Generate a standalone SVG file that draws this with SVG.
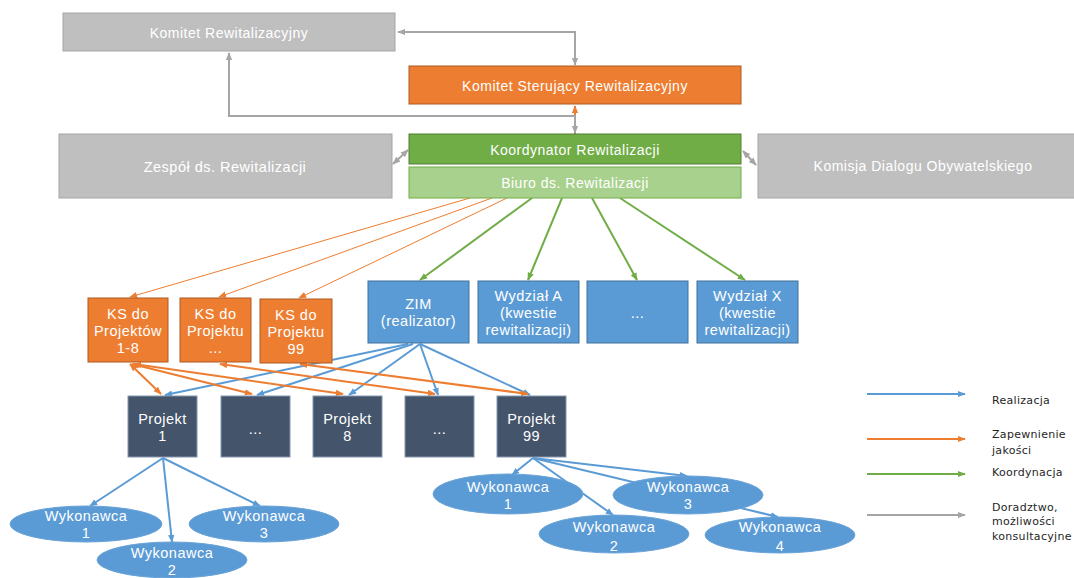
<svg xmlns="http://www.w3.org/2000/svg" width="1074" height="578" viewBox="0 0 1074 578">
<style>
.t{font-family:"Liberation Sans",Arial,sans-serif;fill:#ffffff;text-anchor:middle;letter-spacing:0.5px}
.t14{font-size:14px}
.t15{font-size:14.5px}
.gray{fill:#bfbfbf;stroke:#a5a5a5;stroke-width:1}
.orange{fill:#ed7d31;stroke:#ae5a21;stroke-width:1}
.dgreen{fill:#70ad47;stroke:#507e32;stroke-width:1}
.lgreen{fill:#a9d18e;stroke:#70ad47;stroke-width:1}
.blue{fill:#5b9bd5;stroke:#41719c;stroke-width:1}
.slate{fill:#44546a;stroke:#8497b0;stroke-width:1}
.ell{fill:#5b9bd5;stroke:#6aa3d8;stroke-width:1}
.cg{stroke:#a5a5a5;stroke-width:2;fill:none;marker-start:url(#ag);marker-end:url(#ag)}
.co{stroke:#ed7d31;stroke-width:2;fill:none}
.cot{stroke:#ed7d31;stroke-width:1;fill:none;marker-end:url(#ao)}
.cgr{stroke:#70ad47;stroke-width:2;fill:none;marker-end:url(#agr)}
.cb{stroke:#5b9bd5;stroke-width:2;fill:none;marker-end:url(#ab)}
.leg{font-family:"DejaVu Sans","Liberation Sans",sans-serif;font-size:11px;fill:#262626;letter-spacing:0.3px}
</style>
<defs>
<marker id="ag" viewBox="0 0 10 10" refX="9" refY="5" markerWidth="8" markerHeight="8" markerUnits="userSpaceOnUse" orient="auto-start-reverse"><path d="M0,1 L10,5 L0,9 z" fill="#a5a5a5"/></marker>
<marker id="ao" viewBox="0 0 10 10" refX="9" refY="5" markerWidth="8" markerHeight="8" markerUnits="userSpaceOnUse" orient="auto-start-reverse"><path d="M0,1 L10,5 L0,9 z" fill="#ed7d31"/></marker>
<marker id="agr" viewBox="0 0 10 10" refX="9" refY="5" markerWidth="8" markerHeight="8" markerUnits="userSpaceOnUse" orient="auto-start-reverse"><path d="M0,1 L10,5 L0,9 z" fill="#70ad47"/></marker>
<marker id="ab" viewBox="0 0 10 10" refX="9" refY="5" markerWidth="8" markerHeight="8" markerUnits="userSpaceOnUse" orient="auto-start-reverse"><path d="M0,1 L10,5 L0,9 z" fill="#5b9bd5"/></marker>
</defs>
<rect width="1074" height="578" fill="#ffffff"/>

<g id="connectors">
<line class="co" x1="575" y1="134" x2="575" y2="106" marker-end="url(#ao)"/>
<polyline class="cg" points="575,65 575,32 398,32"/>
<polyline class="cg" points="229,53 229,116 575,116 575,133"/>
<line class="cg" x1="393" y1="164" x2="408" y2="150"/>
<line class="cg" x1="743" y1="151" x2="756" y2="165"/>
<line class="cot" x1="470" y1="198" x2="130" y2="297"/>
<line class="cot" x1="492" y1="198" x2="219" y2="297"/>
<line class="cot" x1="507" y1="198" x2="299" y2="298"/>
<line class="cgr" x1="532" y1="198" x2="420" y2="280"/>
<line class="cgr" x1="562" y1="198" x2="528" y2="280"/>
<line class="cgr" x1="592" y1="198" x2="637" y2="280"/>
<line class="cgr" x1="620" y1="198" x2="745" y2="280"/>
<line class="cb" x1="408" y1="344" x2="165" y2="395"/>
<line class="cb" x1="413" y1="344" x2="257" y2="395"/>
<line class="cb" x1="420" y1="344" x2="349" y2="395"/>
<line class="cb" x1="420" y1="344" x2="438" y2="395"/>
<line class="cb" x1="420" y1="344" x2="530" y2="395"/>
<line class="co" x1="130" y1="364" x2="161" y2="394" marker-start="url(#ao)" marker-end="url(#ao)"/>
<line class="co" x1="132" y1="364" x2="252" y2="394" marker-start="url(#ao)" marker-end="url(#ao)"/>
<line class="co" x1="134" y1="364" x2="343" y2="394" marker-start="url(#ao)" marker-end="url(#ao)"/>
<line class="co" x1="220" y1="364" x2="435" y2="394" marker-start="url(#ao)" marker-end="url(#ao)"/>
<line class="co" x1="300" y1="364" x2="528" y2="394" marker-start="url(#ao)" marker-end="url(#ao)"/>
<line class="cb" x1="163" y1="458" x2="90" y2="506"/>
<line class="cb" x1="163" y1="458" x2="172" y2="542"/>
<line class="cb" x1="163" y1="458" x2="260" y2="506"/>
<line class="cb" x1="533" y1="458" x2="512" y2="475" stroke-width="1.5"/>
<line class="cb" x1="533" y1="458" x2="613" y2="515"/>
<line class="cb" x1="533" y1="458" x2="687" y2="476"/>
<line class="cb" x1="533" y1="458" x2="778" y2="517"/>
</g>

<g id="komitet-rewitalizacyjny"><rect class="gray" x="63" y="13" width="332" height="38"/><text class="t t14" x="229" y="38">Komitet Rewitalizacyjny</text></g>
<g id="komitet-sterujacy"><rect class="orange" x="409" y="66" width="332" height="38"/><text class="t t14" x="575" y="91">Komitet Sterujący Rewitalizacyjny</text></g>
<g id="zespol"><rect class="gray" x="59" y="134" width="333" height="64"/><text class="t t15" x="225" y="172">Zespół ds. Rewitalizacji</text></g>
<g id="koordynator"><rect class="dgreen" x="409" y="134" width="332" height="30"/><text class="t t14" x="575" y="155">Koordynator Rewitalizacji</text></g>
<g id="biuro"><rect class="lgreen" x="409" y="167" width="332" height="31"/><text class="t t14" x="575" y="188">Biuro ds. Rewitalizacji</text></g>
<g id="komisja"><rect class="gray" x="758" y="134" width="330" height="64"/><text class="t t14" x="923" y="171">Komisja Dialogu Obywatelskiego</text></g>

<g id="ks1"><rect class="orange" x="88" y="298" width="80" height="64"/><text class="t t15" x="128" y="319">KS do</text><text class="t t15" x="128" y="336">Projektów</text><text class="t t15" x="128" y="353">1-8</text></g>
<g id="ks2"><rect class="orange" x="180" y="298" width="71" height="64"/><text class="t t15" x="215.5" y="319">KS do</text><text class="t t15" x="215.5" y="336">Projektu</text><text class="t t15" x="215.5" y="353">...</text></g>
<g id="ks3"><rect class="orange" x="260" y="299" width="72" height="64"/><text class="t t15" x="296" y="320">KS do</text><text class="t t15" x="296" y="337">Projektu</text><text class="t t15" x="296" y="354">99</text></g>

<g id="zim"><rect class="blue" x="368" y="281" width="101" height="62"/><text class="t t15" x="418.5" y="309">ZIM</text><text class="t t15" x="418.5" y="326">(realizator)</text></g>
<g id="wydzial-a"><rect class="blue" x="478" y="281" width="101" height="62"/><text class="t t15" x="528.5" y="301">Wydział A</text><text class="t t15" x="528.5" y="318">(kwestie</text><text class="t t15" x="528.5" y="335">rewitalizacji)</text></g>
<g id="wydzial-dots"><rect class="blue" x="587" y="281" width="101" height="62"/><text class="t t15" x="637.5" y="318">...</text></g>
<g id="wydzial-x"><rect class="blue" x="697" y="281" width="101" height="62"/><text class="t t15" x="747.5" y="301">Wydział X</text><text class="t t15" x="747.5" y="318">(kwestie</text><text class="t t15" x="747.5" y="335">rewitalizacji)</text></g>

<g id="projekt-1"><rect class="slate" x="128" y="396" width="69" height="61"/><text class="t t15" x="162.5" y="424">Projekt</text><text class="t t15" x="162.5" y="441">1</text></g>
<g id="projekt-dots-1"><rect class="slate" x="221" y="396" width="69" height="61"/><text class="t t15" x="255.5" y="434">...</text></g>
<g id="projekt-8"><rect class="slate" x="313" y="396" width="69" height="61"/><text class="t t15" x="347.5" y="424">Projekt</text><text class="t t15" x="347.5" y="441">8</text></g>
<g id="projekt-dots-2"><rect class="slate" x="405" y="396" width="69" height="61"/><text class="t t15" x="439.5" y="434">...</text></g>
<g id="projekt-99"><rect class="slate" x="497" y="396" width="69" height="61"/><text class="t t15" x="531.5" y="424">Projekt</text><text class="t t15" x="531.5" y="441">99</text></g>

<g id="p1-wykonawca-1"><ellipse class="ell" cx="86" cy="524" rx="76" ry="18"/><text class="t t15" x="86" y="521">Wykonawca</text><text class="t t15" x="86" y="538">1</text></g>
<g id="p1-wykonawca-2"><ellipse class="ell" cx="172" cy="560" rx="75" ry="18"/><text class="t t15" x="172" y="558">Wykonawca</text><text class="t t15" x="172" y="575">2</text></g>
<g id="p1-wykonawca-3"><ellipse class="ell" cx="264" cy="524" rx="75" ry="18"/><text class="t t15" x="264" y="521">Wykonawca</text><text class="t t15" x="264" y="538">3</text></g>

<g id="p99-wykonawca-1"><ellipse class="ell" cx="508" cy="494" rx="75" ry="20"/><text class="t t15" x="508" y="492">Wykonawca</text><text class="t t15" x="508" y="509">1</text></g>
<g id="p99-wykonawca-2"><ellipse class="ell" cx="614" cy="534" rx="75" ry="19"/><text class="t t15" x="614" y="532">Wykonawca</text><text class="t t15" x="614" y="551">2</text></g>
<g id="p99-wykonawca-3"><ellipse class="ell" cx="688" cy="495" rx="75" ry="19"/><text class="t t15" x="688" y="492">Wykonawca</text><text class="t t15" x="688" y="509">3</text></g>
<g id="p99-wykonawca-4"><ellipse class="ell" cx="780" cy="535" rx="75" ry="18"/><text class="t t15" x="780" y="532">Wykonawca</text><text class="t t15" x="780" y="551">4</text></g>

<g id="legend">
<line x1="867" y1="394" x2="965" y2="394" stroke="#5b9bd5" stroke-width="2" marker-end="url(#ab)"/>
<line x1="867" y1="439" x2="965" y2="439" stroke="#ed7d31" stroke-width="2" marker-end="url(#ao)"/>
<line x1="867" y1="474" x2="965" y2="474" stroke="#70ad47" stroke-width="2" marker-end="url(#agr)"/>
<line x1="867" y1="515" x2="965" y2="515" stroke="#a5a5a5" stroke-width="2" marker-end="url(#ag)"/>
<text class="leg" x="992" y="404">Realizacja</text>
<text class="leg" x="992" y="438">Zapewnienie</text>
<text class="leg" x="992" y="454">jakości</text>
<text class="leg" x="992" y="476">Koordynacja</text>
<text class="leg" x="992" y="511">Doradztwo,</text>
<text class="leg" x="992" y="525">możliwości</text>
<text class="leg" x="992" y="540">konsultacyjne</text>
</g>
</svg>
